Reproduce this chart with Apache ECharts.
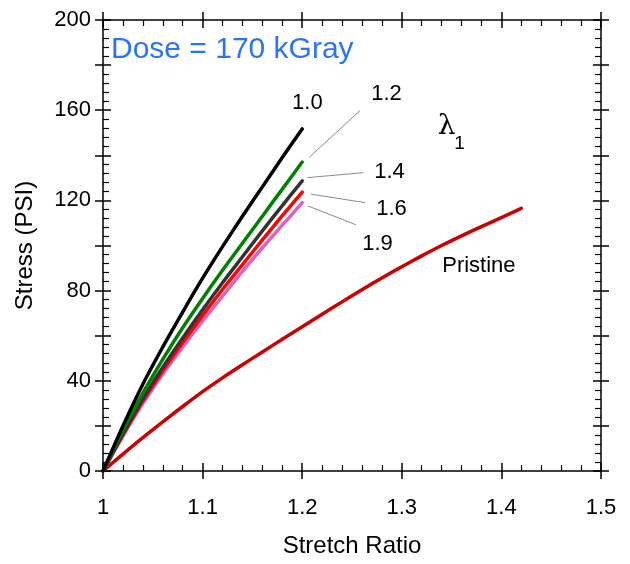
<!DOCTYPE html>
<html>
<head>
<meta charset="utf-8">
<script src="https://cdn.jsdelivr.net/npm/echarts@6/dist/echarts.min.js"></script>
<style>
  html, body { margin: 0; padding: 0; background: #fff; }
  #main { width: 630px; height: 564px; }
</style>
</head>
<body>
<div id="main"></div>
<script>
// stretch ratios for the irradiated samples, and for the pristine one
var stretch = [1.00, 1.02, 1.04, 1.06, 1.08, 1.10, 1.12, 1.14, 1.16, 1.18, 1.20];
var stretchPristine = [1.00, 1.02, 1.04, 1.06, 1.08, 1.10, 1.12, 1.14, 1.16, 1.18, 1.20,
                       1.22, 1.24, 1.26, 1.28, 1.30, 1.32, 1.34, 1.36, 1.38, 1.40, 1.42];

// stress (PSI)
var stress10 = [0, 20, 38.5, 55, 70.5, 85.5, 99.5, 113, 126, 139, 151.7];
var stress12 = [0, 18, 34.5, 49.5, 63.5, 76.5, 89, 101, 113, 125, 137];
var stress14 = [0, 16.5, 32, 46, 59, 71.5, 83.5, 95, 106.5, 117.7, 128.7];
var stress16 = [0, 16, 31, 44.5, 57, 69, 80.5, 91.5, 102.5, 113.2, 123.7];
var stress19 = [0, 15.5, 30, 43, 55, 66.5, 77.5, 88.5, 99, 109, 119];
var stressPristine = [0, 7.5, 14.8, 21.8, 28.6, 35.2, 41.3, 47.1, 52.8, 58.4, 64,
                      69.5, 75, 80.4, 85.6, 90.6, 95.4, 100, 104.3, 108.4, 112.4, 116.5];

var yTicks = [0, 40, 80, 120, 160, 200];

// curve labels and their leader lines, in data units
var labelText = ['1.0', '1.2', '1.4', '1.6', '1.9', 'Pristine'];
var labelPos = [[1.2057, 163.2], [1.2851, 166.9], [1.2881, 132.2], [1.2901, 116.2], [1.2761, 100.4], [1.3779, 90.5]];
var leaders = [
  [[1.207, 139.1], [1.258, 159.8]],
  [[1.2054, 130.1], [1.2613, 132.3]],
  [[1.2087, 122.8], [1.263, 119.0]],
  [[1.206, 117.5], [1.254, 109.2]]
];

var FONT = 'Liberation Sans, Arial, sans-serif';

function pairs(xs, ys) {
  return xs.map(function (x, i) { return [x, ys[i]]; });
}

function xAx(pos, inside, main) {
  return {
    type: 'value', position: pos, min: 1, max: 1.5, interval: 0.1,
    axisLine: { show: main, onZero: false, lineStyle: { color: '#000', width: 1.5 } },
    axisTick: { show: true, inside: inside, length: 8, lineStyle: { color: '#000', width: 1.5 } },
    minorTick: { show: inside, splitNumber: 5, length: 6, lineStyle: { color: '#000', width: 1.2 } },
    axisLabel: {
      show: main && pos === 'bottom', margin: 26, color: '#000', fontSize: 22, fontFamily: FONT,
      formatter: function (v) { return Math.abs(v - 1) < 1e-9 ? '1' : v.toFixed(1); }
    },
    splitLine: { show: false }
  };
}

function yAx(pos, inside, main) {
  return {
    type: 'value', position: pos, min: 0, max: 200, interval: 20,
    axisLine: { show: main, onZero: false, lineStyle: { color: '#000', width: 1.5 } },
    axisTick: { show: true, inside: inside, length: 8, lineStyle: { color: '#000', width: 1.5 } },
    minorTick: { show: inside, splitNumber: 5, length: 6, lineStyle: { color: '#000', width: 1.2 } },
    axisLabel: {
      show: main && pos === 'left', margin: 12, color: '#000', fontSize: 22, fontFamily: FONT,
      formatter: function (v) { return yTicks.indexOf(v) >= 0 ? String(v) : ''; }
    },
    splitLine: { show: false }
  };
}

var xAxes = [xAx('bottom', false, true), xAx('bottom', true, false), xAx('top', false, true), xAx('top', true, false)];
xAxes[0].name = 'Stretch Ratio';
xAxes[0].nameLocation = 'middle';
xAxes[0].nameGap = 63;
xAxes[0].nameTextStyle = { color: '#000', fontSize: 24, fontFamily: FONT };

var yAxes = [yAx('left', false, true), yAx('left', true, false), yAx('right', false, true), yAx('right', true, false)];
yAxes[0].name = 'Stress (PSI)';
yAxes[0].nameLocation = 'middle';
yAxes[0].nameGap = 66;
yAxes[0].nameTextStyle = { color: '#000', fontSize: 24, fontFamily: FONT };

function curve(name, xs, ys, color) {
  return {
    name: name, type: 'line', data: pairs(xs, ys), showSymbol: false, symbol: 'none',
    smooth: 0.25,
    silent: true, animation: false,
    lineStyle: { color: color, width: 3.5, cap: 'round', join: 'round' }
  };
}

var series = [
  curve('Pristine', stretchPristine, stressPristine, '#cc0000'),
  curve('1.9', stretch, stress19, '#e060c0'),
  curve('1.6', stretch, stress16, '#ff0000'),
  curve('1.4', stretch, stress14, '#333333'),
  curve('1.2', stretch, stress12, '#008000'),
  curve('1.0', stretch, stress10, '#000000')
];

leaders.forEach(function (seg) {
  series.push({
    type: 'line', data: seg, symbol: 'none', silent: true, animation: false,
    lineStyle: { color: '#8a8a8a', width: 1 }
  });
});

function textMark(points, names, size, family) {
  return {
    type: 'scatter', symbolSize: 1, silent: true, animation: false,
    itemStyle: { opacity: 0 },
    data: points.map(function (p, i) { return { value: p, name: names[i] }; }),
    label: {
      show: true, position: [0, 0], align: 'center', verticalAlign: 'middle',
      formatter: '{b}', color: '#000', opacity: 1, textBorderWidth: 0,
      fontSize: size, fontFamily: family
    }
  };
}

series.push(textMark(labelPos, labelText, 22, FONT));
// lambda with subscript 1
series.push(textMark([[1.3454, 152.5]], ['λ'], 28, 'DejaVu Serif, serif'));
series.push(textMark([[1.3585, 144.9]], ['1'], 19, FONT));

var chart = echarts.init(document.getElementById('main'), null, { renderer: 'canvas' });
chart.setOption({
  backgroundColor: '#fff',
  animation: false,
  title: {
    text: 'Dose = 170 kGray', left: 111, top: 35, padding: 0,
    textStyle: { color: '#2a75f3', fontSize: 30, fontWeight: 'normal', fontFamily: FONT }
  },
  grid: { left: 103, right: 29, top: 20, bottom: 93 },
  xAxis: xAxes,
  yAxis: yAxes,
  series: series
});
</script>
</body>
</html>
